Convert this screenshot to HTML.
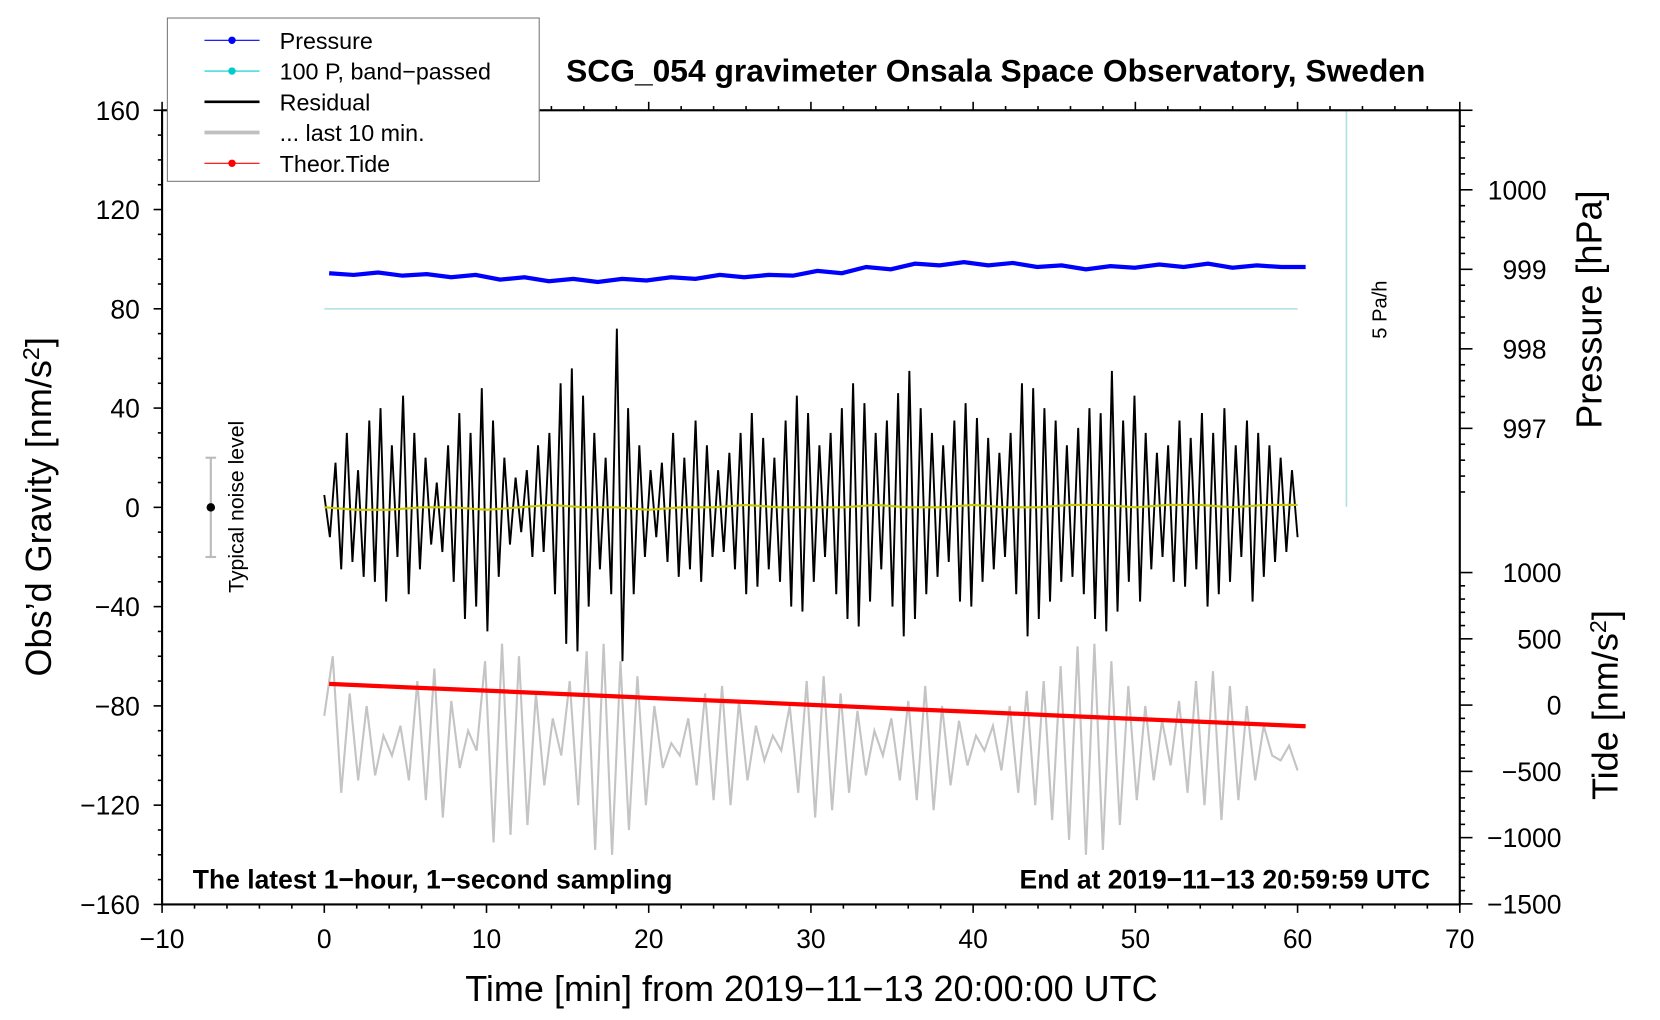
<!DOCTYPE html>
<html><head><meta charset="utf-8"><style>
html,body{margin:0;padding:0;background:#fff;}
svg{display:block;font-family:"Liberation Sans",sans-serif;}
</style></head><body>
<svg id="chart" width="1660" height="1020" viewBox="0 0 1567 962" preserveAspectRatio="none" xmlns="http://www.w3.org/2000/svg">
<g id="marks"></g>
<g id="axes"></g>
</svg>
<script>
const xTicks=[-10,0,10,20,30,40,50,60,70];
const yTicks=[160,120,80,40,0,-40,-80,-120,-160];
const pTicks=[1000,999,998,997];
const tTicks=[1000,500,0,-500,-1000,-1500];
const pressure=[998.95,998.93,998.96,998.92,998.94,998.9,998.93,998.87,998.9,998.85,998.88,998.84,998.88,998.86,998.9,998.88,998.93,998.9,998.93,998.92,998.98,998.95,999.03,999.0,999.07,999.05,999.09,999.05,999.08,999.03,999.05,999.0,999.04,999.02,999.06,999.03,999.07,999.02,999.05,999.03,999.03];
const tide=[160,133,107,80,53,27,0,-27,-53,-80,-107,-133,-160];
const residual=[5,-12,18,-25,30,-22,15,-28,35,-30,40,-38,25,-20,45,-35,30,-25,20,-15,10,-18,25,-30,38,-45,30,-40,48,-50,35,-28,20,-15,12,-10,15,-20,25,-18,30,-35,50,-55,56,-58,45,-40,30,-25,20,-35,72,-62,40,-35,25,-20,15,-12,18,-22,30,-28,20,-25,35,-30,25,-20,15,-18,22,-25,30,-35,38,-32,28,-25,20,-30,35,-40,45,-42,38,-30,25,-20,30,-35,40,-45,50,-48,42,-38,30,-25,35,-40,46,-52,55,-45,40,-35,30,-28,25,-22,35,-38,42,-40,36,-30,28,-25,22,-20,30,-35,50,-52,48,-45,40,-38,35,-30,25,-28,32,-35,40,-45,38,-50,55,-42,35,-30,45,-38,30,-25,22,-20,25,-30,35,-32,28,-25,38,-40,30,-35,40,-30,25,-20,35,-38,30,-28,25,-22,20,-18,15,-12];
const smooth=[0,-1,-1,0,0,-1,0,1,0,0,-1,0,0,1,0,0,0,1,0,0,1,0,0,1,1,0,1,1,0,1,1];
const grey=[-84,-60,-115,-75,-110,-80,-108,-92,-100,-88,-110,-70,-118,-65,-125,-78,-105,-90,-98,-62,-135,-55,-132,-60,-128,-75,-112,-85,-100,-70,-120,-58,-138,-55,-140,-62,-130,-68,-120,-80,-105,-95,-100,-85,-112,-75,-118,-72,-120,-78,-110,-88,-102,-92,-98,-80,-115,-70,-125,-68,-122,-75,-115,-82,-108,-90,-100,-85,-110,-78,-118,-72,-122,-80,-112,-86,-104,-92,-98,-88,-106,-80,-115,-74,-120,-70,-126,-64,-134,-56,-140,-55,-138,-62,-128,-72,-118,-80,-110,-86,-104,-78,-115,-70,-120,-66,-126,-72,-118,-80,-110,-88,-100,-102,-96,-106];
const bandPassed=[80,80];

const X=v=>153+(v+10)*(1225/80);
const Y=v=>478.5-v*(749/320);
const PY=v=>179+(1000-v)*75;
const TY=v=>665-v*0.125;
const NS="http://www.w3.org/2000/svg";
const marks=document.getElementById('marks'),axes=document.getElementById('axes');
function mk(tag,at,parent){const e=document.createElementNS(NS,tag);for(const k in at)e.setAttribute(k,at[k]);(parent||marks).appendChild(e);return e;}
function series(arr,x0,x1,yf){return arr.map((v,i)=>X(x0+(x1-x0)*i/(arr.length-1)).toFixed(1)+','+yf(v).toFixed(1)).join(' ');}

let fr=mk('rect',{x:153,y:104,width:1225,height:749,fill:'none',stroke:'#000','stroke-width':2},axes);


let bp=mk('polyline',{points:series(bandPassed,0,60,Y),fill:'none',stroke:'#aee0e0','stroke-width':1.5});

let pb=mk('line',{x1:1271,y1:104,x2:1271,y2:478,stroke:'#aee0e0','stroke-width':1.5});

let pt=mk('text',{x:0,y:0,transform:'translate(1309,292) rotate(-90)','text-anchor':'middle','font-size':19},axes);pt.textContent='5 Pa/h';


let gl=mk('polyline',{points:series(grey,0,60,Y),fill:'none',stroke:'#c4c4c4','stroke-width':2});

let rl=mk('polyline',{points:series(residual,0,60,Y),fill:'none',stroke:'#000','stroke-width':1.8});

let sl=mk('polyline',{points:series(smooth,0,60,Y),fill:'none',stroke:'#c8c800','stroke-width':2});

let pl=mk('polyline',{points:series(pressure,0.3,60.5,PY),fill:'none',stroke:'#0000ff','stroke-width':4});

let tl=mk('polyline',{points:series(tide,0.3,60.5,TY),fill:'none',stroke:'#ff0000','stroke-width':4});


let nb=mk('line',{x1:199,y1:Y(20),x2:199,y2:Y(-20),stroke:'#bbb','stroke-width':2});

mk('line',{x1:194,y1:Y(20),x2:204,y2:Y(20),stroke:'#bbb','stroke-width':2});
mk('line',{x1:194,y1:Y(-20),x2:204,y2:Y(-20),stroke:'#bbb','stroke-width':2});
mk('circle',{cx:199,cy:Y(0),r:4,fill:'#000'});
let nt=mk('text',{transform:'translate(230,478) rotate(-90)','text-anchor':'middle','font-size':20},axes);nt.textContent='Typical noise level';


for(let v=-10;v<=70;v+=2){const big=v%10===0;mk('line',{x1:X(v),y1:853,x2:X(v),y2:853+(big?8:4),stroke:'#000','stroke-width':1.5},axes);mk('line',{x1:X(v),y1:104,x2:X(v),y2:104-(big?8:4),stroke:'#000','stroke-width':1.5},axes);}
xTicks.forEach(v=>{const t=mk('text',{x:X(v),y:894,'text-anchor':'middle','font-size':25},axes);t.textContent=(v<0?'\u2212'+(-v):v);
});
for(let v=-160;v<=160;v+=10){const big=v%40===0;mk('line',{x1:153,y1:Y(v),x2:153-(big?8:4),y2:Y(v),stroke:'#000','stroke-width':1.5},axes);}
yTicks.forEach(v=>{const t=mk('text',{x:132,y:Y(v)+9,'text-anchor':'end','font-size':25},axes);t.textContent=(v<0?'\u2212'+(-v):v);
});
for(let v=1001.0;v>=996.0;v-=0.2){const y=PY(v);if(y<104||y>478)continue;const big=Math.abs(v-Math.round(v))<0.01;mk('line',{x1:1378,y1:y,x2:1378+(big?12:5),y2:y,stroke:'#000','stroke-width':1.5},axes);}
pTicks.forEach(v=>{const t=mk('text',{x:1460,y:PY(v)+9,'text-anchor':'end','font-size':25},axes);t.textContent=v;
});
for(let v=-1500;v<=1000;v+=100){const y=TY(v);const big=v%500===0;mk('line',{x1:1378,y1:y,x2:1378+(big?12:5),y2:y,stroke:'#000','stroke-width':1.5},axes);}
tTicks.forEach(v=>{const t=mk('text',{x:1474,y:TY(v)+9,'text-anchor':'end','font-size':25},axes);t.textContent=(v<0?'\u2212'+(-v):v);
});

function txt(name,at,s,html){const t=mk('text',at,axes);if(html)t.innerHTML=s;else t.textContent=s;return t;}
txt('chart-title',{x:940,y:77,'text-anchor':'middle','font-size':30,'font-weight':'bold'},'SCG_054 gravimeter Onsala Space Observatory, Sweden');
txt('x-axis-title',{x:766,y:944,'text-anchor':'middle','font-size':34},'Time [min] from 2019\u221211\u221213 20:00:00 UTC');
txt('y-axis-title',{transform:'translate(48,478) rotate(-90)','text-anchor':'middle','font-size':34},'Obs\u2019d Gravity [nm/s<tspan dy="-11" font-size="22">2</tspan><tspan dy="11">]</tspan>',true);
txt('pressure-axis-title',{transform:'translate(1512,292) rotate(-90)','text-anchor':'middle','font-size':34},'Pressure [hPa]');
txt('tide-axis-title',{transform:'translate(1527,665) rotate(-90)','text-anchor':'middle','font-size':34},'Tide [nm/s<tspan dy="-11" font-size="22">2</tspan><tspan dy="11">]</tspan>',true);
txt('sampling-note',{x:182,y:838,'font-size':25,'font-weight':'bold'},'The latest 1\u2212hour, 1\u2212second sampling');
txt('end-time-note',{x:1350,y:838,'text-anchor':'end','font-size':25,'font-weight':'bold'},'End at 2019\u221211\u221213 20:59:59 UTC');

const lg=mk('g',{},axes);
mk('rect',{x:158,y:17,width:351,height:154,fill:'#fff',stroke:'#777','stroke-width':1},lg);
const items=[['Pressure','#0000ff',1,true],['100 P, band\u2212passed','#00cccc',1,true],['Residual','#000',2.5,false],['... last 10 min.','#c0c0c0',3.5,false],['Theor.Tide','#ff0000',1,true]];
items.forEach((it,i)=>{const y=38+i*29;const g=mk('g',{},lg);
mk('line',{x1:193,y1:y,x2:245,y2:y,stroke:it[1],'stroke-width':it[2]},g);if(it[3])mk('circle',{cx:219,cy:y,r:3.5,fill:it[1]},g);
const t=mk('text',{x:264,y:y+8,'font-size':22},g);t.textContent=it[0];});
</script>
</body></html>
